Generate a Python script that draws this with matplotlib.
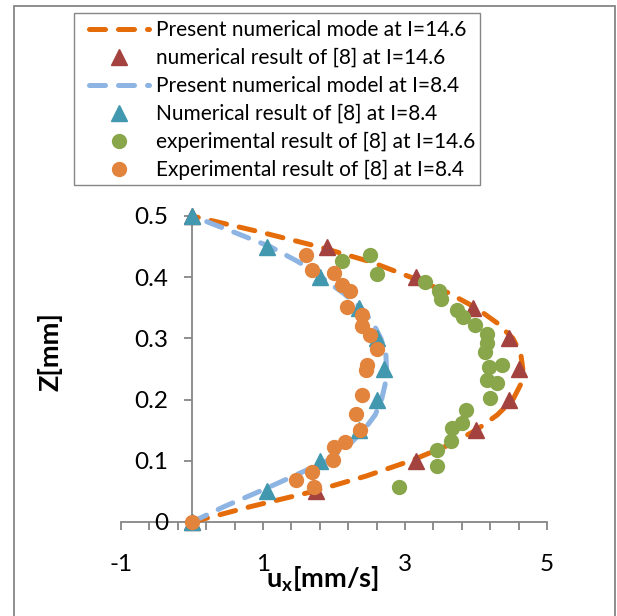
import numpy as np
import matplotlib.pyplot as plt
from matplotlib.patches import Rectangle

plt.rcParams['font.family'] = ['Lato', 'DejaVu Sans']
plt.rcParams['mathtext.fontset'] = 'custom'
plt.rcParams['mathtext.rm'] = 'Lato'
plt.rcParams['mathtext.bf'] = 'Lato:bold'

# present model profiles (z in mm, u in mm/s)
z_model = [0, 0.025, 0.05, 0.075, 0.1, 0.125, 0.15, 0.175, 0.2, 0.225, 0.25,
           0.275, 0.3, 0.325, 0.35, 0.375, 0.4, 0.425, 0.45, 0.475, 0.5]
u_model_146 = [0, 0.82, 1.71, 2.45, 3.08, 3.6, 4.0, 4.3, 4.52, 4.63, 4.66,
               4.63, 4.52, 4.3, 4.0, 3.6, 3.08, 2.52, 1.78, 0.92, 0]
u_model_84 = [0, 0.45, 0.95, 1.43, 1.9, 2.2, 2.42, 2.58, 2.67, 2.72, 2.74,
              2.73, 2.66, 2.55, 2.38, 2.12, 1.82, 1.5, 1.1, 0.56, 0]

# numerical results of [8]
z_num = [0, 0.05, 0.1, 0.15, 0.2, 0.25, 0.3, 0.35, 0.4, 0.45, 0.5]
u_num_146 = [0, 1.75, 3.15, 4.0, 4.46, 4.6, 4.46, 3.96, 3.15, 1.9, 0]
u_num_84 = [0, 1.05, 1.8, 2.35, 2.6, 2.7, 2.6, 2.35, 1.8, 1.05, 0]

# experimental results of [8]
u_exp_146 = [2.11, 2.51, 2.61, 3.28, 3.48, 3.50, 3.73, 3.82, 3.99, 4.16, 4.15, 4.13,
             4.19, 4.36, 4.15, 4.30, 4.20, 3.86, 3.80, 3.66, 3.65, 3.45, 3.45, 2.91]
z_exp_146 = [0.426, 0.436, 0.406, 0.392, 0.378, 0.365, 0.346, 0.335, 0.322, 0.308, 0.292, 0.277,
             0.254, 0.257, 0.232, 0.227, 0.203, 0.183, 0.161, 0.153, 0.132, 0.118, 0.092, 0.057]
u_exp_84 = [1.61, 1.69, 2.0, 2.11, 2.23, 2.19, 2.39, 2.40, 2.51, 2.61, 2.46,
            2.45, 2.40, 2.31, 2.36, 2.15, 2.0, 1.98, 1.69, 1.47, 1.72, 0]
z_exp_84 = [0.437, 0.412, 0.407, 0.387, 0.377, 0.352, 0.338, 0.321, 0.306, 0.282, 0.257,
            0.248, 0.208, 0.176, 0.151, 0.131, 0.122, 0.101, 0.082, 0.069, 0.057, 0]

x_ticks = [-1 + 0.4 * i for i in range(16)]
x_ticklabels = ['-1' if i == 0 else '1' if i == 5 else '3' if i == 10 else '5' if i == 15 else ''
                for i in range(16)]
y_ticks = [0, 0.1, 0.2, 0.3, 0.4, 0.5]
y_ticklabels = ['0', '0.1', '0.2', '0.3', '0.4', '0.5']

W, H = 617, 616
fig = plt.figure(figsize=(W / 100, H / 100), dpi=100)
ax = fig.add_axes([121 / W, 94 / H, 426 / W, 306 / H])

grey = '#868686'
l1, = ax.plot(u_model_146, z_model, color='#E46C0A', lw=3.6, ls=(0, (3.2, 2.6)),
              dash_capstyle='round', clip_on=False, zorder=3,
              label='Present numerical mode at I=14.6')
l2, = ax.plot(u_num_146, z_num, ls='none', marker='^', ms=11, color='#A3423F',
              mec='#A3423F', clip_on=False, zorder=4,
              label='numerical result of [8] at I=14.6')
l3, = ax.plot(u_model_84, z_model, color='#8DB4E2', lw=3.6, ls=(0, (3.2, 2.6)),
              dash_capstyle='round', clip_on=False, zorder=5,
              label='Present numerical model at I=8.4')
l4, = ax.plot(u_num_84, z_num, ls='none', marker='^', ms=11, color='#4198AF',
              mec='#4198AF', clip_on=False, zorder=6,
              label='Numerical result of [8] at I=8.4')
l5, = ax.plot(u_exp_146, z_exp_146, ls='none', marker='o', ms=10, color='#89A64B',
              mec='#89A64B', clip_on=False, zorder=7,
              label='experimental result of [8] at I=14.6')
l6, = ax.plot(u_exp_84, z_exp_84, ls='none', marker='o', ms=10, color='#E2843C',
              mec='#E2843C', clip_on=False, zorder=8,
              label='Experimental result of [8] at I=8.4')

ax.set_xlim(-1, 5)
ax.set_ylim(0, 0.5)
ax.spines['top'].set_visible(False)
ax.spines['right'].set_visible(False)
ax.spines['left'].set_position(('data', 0))
for s in ('left', 'bottom'):
    ax.spines[s].set_color(grey)
    ax.spines[s].set_linewidth(1.3)
    ax.spines[s].set_zorder(1)

ax.set_xticks(x_ticks)
ax.set_xticklabels(x_ticklabels)
ax.set_yticks(y_ticks)
ax.set_yticklabels(y_ticklabels)
ax.tick_params(axis='both', direction='out', length=6, width=1.3, color=grey,
               labelsize=17.5, labelcolor='black')
ax.tick_params(axis='x', pad=17)
ax.tick_params(axis='y', pad=11)
ax.patch.set_visible(False)

fig.text(50 / W, 1 - 352 / H, 'Z[mm]', rotation=90, fontsize=19.5, fontweight='bold',
         ha='center', va='center')
fig.text(266 / W, 1 - 579 / H, r'u$_\mathbf{x}$[mm/s]', fontsize=19.5, fontweight='bold',
         ha='left', va='center')

# partly visible caption above the chart area
fig.text(3 / W, 1 + 6 / H, 'Fig. 6 Comparison of velocity profiles', fontsize=16,
         fontweight='bold', family='Liberation Serif', ha='left', va='baseline')

# chart area border and legend box
fig.add_artist(Rectangle((14 / W, -0.05), 601 / W, 1.05 - 6 / H, transform=fig.transFigure,
                         fill=False, edgecolor=grey, lw=1.3))
fig.add_artist(Rectangle((74 / W, 1 - 185 / H), 406 / W, 172 / H, transform=fig.transFigure,
                         fill=False, edgecolor=grey, lw=1.0))

ax.legend(handles=[l1, l2, l3, l4, l5, l6], loc='upper left',
          bbox_to_anchor=(89 / W, 1 - 20 / H), bbox_transform=fig.transFigure,
          frameon=False, fontsize=15, handlelength=2.9, handletextpad=0.3,
          labelspacing=0.385, borderpad=0, borderaxespad=0)

fig.savefig('out.png', dpi=100)
